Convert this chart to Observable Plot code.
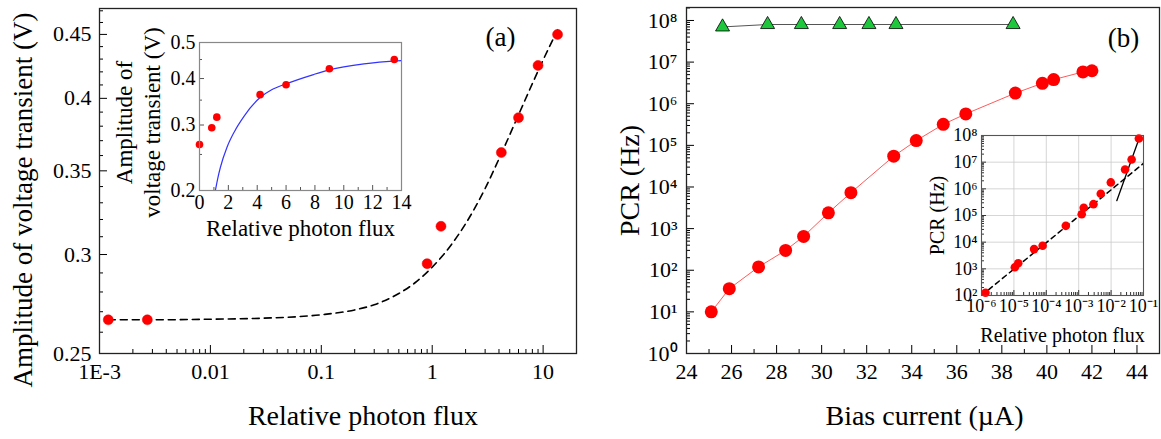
<!DOCTYPE html>
<html><head><meta charset="utf-8">
<script src="https://cdn.jsdelivr.net/npm/d3@7"></script>
<script src="https://cdn.jsdelivr.net/npm/@observablehq/plot@0.6"></script>
<style>
html,body{margin:0;padding:0;background:#fff;}
#wrap{position:relative;width:1161px;height:439px;overflow:hidden;background:#fff;}
</style></head><body><div id="wrap"></div>
<script>
// ---------- Panel (a): amplitude vs relative photon flux ----------
const fluxA = [0.0012, 0.0027, 0.9, 1.2, 4.2, 6.0, 9.0, 13.5];
const ampA = [0.266, 0.266, 0.295, 0.316, 0.362, 0.386, 0.425, 0.450];
const fitFluxA = [0.0012, 0.003, 0.01, 0.03, 0.1, 0.2, 0.3, 0.5, 0.7, 1, 1.5, 2, 3, 4, 6, 8, 10, 13.5];
const fitAmpA = [0.2660, 0.2660, 0.2663, 0.2668, 0.2685, 0.2709, 0.2735, 0.2792, 0.2848, 0.2931, 0.3058, 0.3175, 0.3388, 0.3578, 0.3880, 0.4110, 0.4293, 0.4537];
const tickFluxA = [0.001, 0.01, 0.1, 1, 10];
const tickFluxLabelsA = ["1E-3", "0.01", "0.1", "1", "10"];
const tickAmpA = [0.25, 0.3, 0.35, 0.4, 0.45];
const tickAmpLabelsA = ["0.25", "0.3", "0.35", "0.4", "0.45"];
const minorAmpA = [0.26,0.27,0.28,0.29,0.31,0.32,0.33,0.34,0.36,0.37,0.38,0.39,0.41,0.42,0.43,0.44,0.46,0.47];

// inset (a): linear flux
const insetFluxA = [0, 0.85, 1.2, 4.2, 6.0, 9.0, 13.5];
const insetAmpA = [0.266, 0.295, 0.315, 0.362, 0.385, 0.425, 0.450];
const modelFluxA = [1.1, 1.27, 1.45, 1.9, 2.4, 3.07, 4.18, 5.0, 6.0, 7.9, 9.0, 11.4, 14.0];
const modelAmpA = [0.200, 0.216, 0.231, 0.261, 0.287, 0.316, 0.355, 0.373, 0.387, 0.410, 0.422, 0.438, 0.447];
const insetTickFluxA = [0, 2, 4, 6, 8, 10, 12, 14];
const insetTickFluxLabelsA = ["0", "2", "4", "6", "8", "10", "12", "14"];
const insetMinorFluxA = [1, 3, 5, 7, 9, 11, 13];
const insetTickAmpA = [0.2, 0.3, 0.4, 0.5];
const insetTickAmpLabelsA = ["0.2", "0.3", "0.4", "0.5"];
const insetMinorAmpA = [0.25, 0.35, 0.45];

// ---------- Panel (b): PCR vs bias current ----------
const biasB = [25.1, 25.9, 27.2, 28.4, 29.2, 30.3, 31.3, 33.2, 34.2, 35.4, 36.4, 38.6, 39.8, 40.3, 41.6, 42.0];
const pcrB = [10, 36, 120, 300, 650, 2400, 7300, 55000, 130000, 320000, 570000, 1.8e6, 3.1e6, 3.8e6, 5.8e6, 6.2e6];
const biasSatB = [25.6, 27.6, 29.1, 30.8, 32.1, 33.3, 38.5];
const pcrSatB = [7.0e7, 8.0e7, 8.0e7, 8.0e7, 8.0e7, 8.0e7, 8.0e7];
const tickBiasB = [24, 26, 28, 30, 32, 34, 36, 38, 40, 42, 44];
const tickBiasLabelsB = ["24", "26", "28", "30", "32", "34", "36", "38", "40", "42", "44"];
const minorBiasB = [25, 27, 29, 31, 33, 35, 37, 39, 41, 43];
const tickPcrB = [1, 10, 1e2, 1e3, 1e4, 1e5, 1e6, 1e7, 1e8];
const tickPcrLabelsB = ["10⁰", "10¹", "10²", "10³", "10⁴", "10⁵", "10⁶", "10⁷", "10⁸"];

// inset (b): PCR vs relative photon flux
const insetFluxB = [1.33e-6, 1.07e-5, 1.36e-5, 4.2e-5, 7.7e-5, 4.0e-4, 1.24e-3, 1.43e-3, 2.85e-3, 4.8e-3, 9.8e-3, 2.7e-2, 4.3e-2, 7.2e-2];
const insetPcrB = [126, 1150, 1630, 5500, 7300, 4.1e4, 1.12e5, 1.94e5, 2.66e5, 6.5e5, 1.74e6, 5.3e6, 1.26e7, 7.7e7];
const linFitFluxB = [1e-6, 0.1];
const linFitPcrB = [100, 9e6];
const steepFitFluxB = [0.015, 0.079];
const steepFitPcrB = [3.6e5, 1e8];
const insetTickFluxB = [1e-6, 1e-5, 1e-4, 1e-3, 1e-2, 1e-1];
const insetTickFluxLabelsB = ["10⁻⁶", "10⁻⁵", "10⁻⁴", "10⁻³", "10⁻²", "10⁻¹"];
const insetTickPcrB = [1e2, 1e3, 1e4, 1e5, 1e6, 1e7, 1e8];
const insetTickPcrLabelsB = ["10²", "10³", "10⁴", "10⁵", "10⁶", "10⁷", "10⁸"];

// ---------- helpers ----------
const FONT = '"Liberation Serif","Times New Roman",serif';
const rows = (xs, ys) => xs.map((x, i) => ({x, y: ys[i]}));
function logMinor(lo, hi) {
  const out = [];
  for (let e = Math.floor(Math.log10(lo)); e <= Math.ceil(Math.log10(hi)); e++)
    for (let m = 2; m <= 9; m++) { const v = +(m * Math.pow(10, e)).toPrecision(6); if (v > lo && v < hi) out.push(v); }
  return out;
}
// inward ticks drawn as short rules anchored on the bottom / left frame edges
const tickX = (vals, H, len, stroke = "#000") => Plot.ruleX(vals, {x: d => d, insetTop: H - len, stroke, strokeWidth: 1});
const tickY = (vals, W, len, stroke = "#000") => Plot.ruleY(vals, {y: d => d, insetRight: W - len, stroke, strokeWidth: 1});
const labX = (vals, labels, pad, fontSize) => Plot.text(vals.map((v, i) => ({v, t: labels[i]})), {x: "v", text: "t", frameAnchor: "bottom", dy: pad, lineAnchor: "top", textAnchor: "middle", fontSize, fill: "#000"});
const labY = (vals, labels, pad, fontSize) => Plot.text(vals.map((v, i) => ({v, t: labels[i]})), {y: "v", text: "t", frameAnchor: "left", dx: -pad, lineAnchor: "middle", textAnchor: "end", fontSize, fill: "#000"});
const rotLabel = (t, dx, dy, fontSize) => Plot.text([t], {frameAnchor: "left", dx, dy, rotate: -90, textAnchor: "middle", lineAnchor: "middle", fontSize, fill: "#000"});
const style = {background: "none", fontFamily: FONT, color: "#000", overflow: "visible"};
const wrap = document.getElementById("wrap");
function place(svg, left) { svg.style.position = "absolute"; svg.style.left = left + "px"; svg.style.top = "0px"; wrap.appendChild(svg); }

// ---------- (a) main ----------  frame 477 x 345
place(Plot.plot({
  width: 580, height: 439, marginLeft: 99, marginRight: 4, marginTop: 8, marginBottom: 86,
  x: {type: "log", domain: [0.001, 20], axis: null},
  y: {type: "log", domain: [0.25, 0.472], axis: null},
  style,
  marks: [
    tickX(logMinor(0.001, 20), 345, 4),
    tickX(tickFluxA, 345, 8),
    labX(tickFluxA, tickFluxLabelsA, 10, 22),
    tickY(minorAmpA, 477, 4),
    tickY(tickAmpA, 477, 8),
    labY(tickAmpA, tickAmpLabelsA, 8, 22),
    Plot.line(rows(fitFluxA, fitAmpA), {x: "x", y: "y", stroke: "#000", strokeWidth: 1.6, strokeDasharray: "7,5", curve: "monotone-x"}),
    Plot.dot(rows(fluxA, ampA), {x: "x", y: "y", r: 5, fill: "#f00", stroke: "#e00", strokeWidth: 0.5}),
    Plot.frame({stroke: "#222", strokeWidth: 1.3}),
    Plot.text(["Relative photon flux"], {frameAnchor: "bottom", dx: 25, dy: 71, lineAnchor: "bottom", textAnchor: "middle", fontSize: 28, fill: "#000"}),
    rotLabel("Amplitude of voltage transient (V)", -76, 19, 27),
    Plot.text(["(a)"], {frameAnchor: "top-right", dx: -76, dy: 37, lineAnchor: "bottom", textAnchor: "middle", fontSize: 27, fill: "#000"})
  ]
}), 0);

// ---------- (a) inset ----------  frame 202 x 148
place(Plot.plot({
  width: 580, height: 439, marginLeft: 199, marginRight: 179, marginTop: 42, marginBottom: 249,
  x: {domain: [0, 14], axis: null},
  y: {type: "log", domain: [0.2, 0.5], axis: null},
  style,
  marks: [
    Plot.frame({fill: "#fff", stroke: "none"}),
    tickX(insetMinorFluxA, 148, 3, "#555"),
    tickX(insetTickFluxA, 148, 5, "#555"),
    labX(insetTickFluxA, insetTickFluxLabelsA, 4, 20),
    tickY(insetMinorAmpA, 202, 3, "#555"),
    tickY(insetTickAmpA, 202, 5, "#555"),
    labY(insetTickAmpA, insetTickAmpLabelsA, 4, 20),
    Plot.line(rows(modelFluxA, modelAmpA), {x: "x", y: "y", stroke: "#3333ff", strokeWidth: 1.2, curve: "monotone-x", clip: true}),
    Plot.dot(rows(insetFluxA, insetAmpA), {x: "x", y: "y", r: 3.8, fill: "#f00"}),
    Plot.frame({stroke: "#888", strokeWidth: 1.2}),
    Plot.text(["Relative photon flux"], {frameAnchor: "bottom", dy: 45, lineAnchor: "bottom", textAnchor: "middle", fontSize: 23, fill: "#000"}),
    rotLabel("Amplitude of", -75, 6, 23),
    rotLabel("voltage transient (V)", -47, 6, 23)
  ]
}), 0);

// ---------- (b) main ----------  frame 473 x 346
place(Plot.plot({
  width: 581, height: 439, marginLeft: 106, marginRight: 2, marginTop: 7, marginBottom: 86,
  x: {domain: [24, 45], axis: null},
  y: {type: "log", domain: [1, 2.05e8], axis: null},
  style,
  marks: [
    tickX(minorBiasB, 346, 4),
    tickX(tickBiasB, 346, 8),
    labX(tickBiasB, tickBiasLabelsB, 10, 22),
    tickY(logMinor(1, 2.05e8), 473, 4),
    tickY(tickPcrB, 473, 8),
    labY(tickPcrB, tickPcrLabelsB, 9, 22),
    Plot.line(rows(biasB, pcrB), {x: "x", y: "y", stroke: "#ff5a5a", strokeWidth: 1}),
    Plot.dot(rows(biasB, pcrB), {x: "x", y: "y", r: 6.5, fill: "#f00"}),
    Plot.line(rows(biasSatB, pcrSatB), {x: "x", y: "y", stroke: "#555", strokeWidth: 1}),
    Plot.dot(rows(biasSatB, pcrSatB), {x: "x", y: "y", symbol: "triangle", r: 5.2, fill: "#1ec83c", stroke: "#000", strokeWidth: 0.8}),
    Plot.frame({stroke: "#222", strokeWidth: 1.3}),
    Plot.text(["Bias current (µA)"], {frameAnchor: "bottom", dx: 1.5, dy: 71, lineAnchor: "bottom", textAnchor: "middle", fontSize: 28, fill: "#000"}),
    rotLabel("PCR (Hz)", -56, 0, 28),
    Plot.text(["(b)"], {frameAnchor: "top-right", dx: -36, dy: 39, lineAnchor: "bottom", textAnchor: "middle", fontSize: 27, fill: "#000"})
  ]
}), 580);

// ---------- (b) inset ----------  frame 162 x 160
place(Plot.plot({
  width: 581, height: 439, marginLeft: 401, marginRight: 18, marginTop: 135, marginBottom: 144,
  x: {type: "log", domain: [1e-6, 0.1], axis: null},
  y: {type: "log", domain: [100, 1e8], axis: null},
  style,
  marks: [
    Plot.frame({fill: "#fff", stroke: "none"}),
    Plot.ruleX(insetTickFluxB, {x: d => d, stroke: "#cccccc", strokeWidth: 0.8}),
    Plot.ruleY(insetTickPcrB, {y: d => d, stroke: "#cccccc", strokeWidth: 0.8}),
    tickX(logMinor(1e-6, 0.1), 160, 3, "#333"),
    tickX(insetTickFluxB, 160, 5, "#333"),
    labX(insetTickFluxB, insetTickFluxLabelsB, 4, 18),
    tickY(logMinor(100, 1e8), 162, 3, "#333"),
    tickY(insetTickPcrB, 162, 5, "#333"),
    labY(insetTickPcrB, insetTickPcrLabelsB, 4, 18),
    Plot.line(rows(linFitFluxB, linFitPcrB), {x: "x", y: "y", stroke: "#000", strokeWidth: 1.5, strokeDasharray: "5,4", clip: true}),
    Plot.line(rows(steepFitFluxB, steepFitPcrB), {x: "x", y: "y", stroke: "#000", strokeWidth: 1.3, clip: true}),
    Plot.dot(rows(insetFluxB, insetPcrB), {x: "x", y: "y", r: 4.3, fill: "#f00"}),
    Plot.frame({stroke: "#555", strokeWidth: 1.1}),
    Plot.text(["Relative photon flux"], {frameAnchor: "bottom", dy: 46, lineAnchor: "bottom", textAnchor: "middle", fontSize: 20, fill: "#000"}),
    rotLabel("PCR (Hz)", -44, 0, 20)
  ]
}), 580);
</script></body></html>
